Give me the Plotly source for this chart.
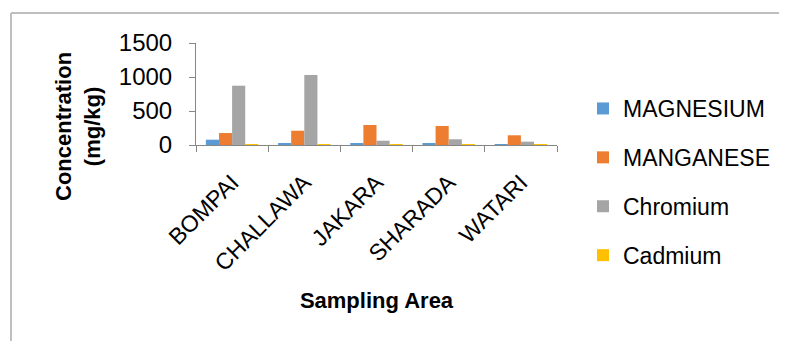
import plotly.graph_objects as go

areas = ["BOMPAI", "CHALLAWA", "JAKARA", "SHARADA", "WATARI"]
magnesium = [78, 15, 20, 15, 10]
manganese = [176, 210, 294, 280, 143]
chromium = [872, 1029, 63, 84, 49]
cadmium = [4, 2, 2, 2, 2]

series_names = ["MAGNESIUM", "MANGANESE", "Chromium", "Cadmium"]
series_values = [magnesium, manganese, chromium, cadmium]
series_colors = ["#5B9BD5", "#ED7D31", "#A5A5A5", "#FFC000"]

FONT = "Liberation Sans"
OFF = 8  # page body margin offset
W, H = 787 - OFF, 341 - OFF

fig = go.Figure()
for name, vals, col in zip(series_names, series_values, series_colors):
    fig.add_trace(go.Bar(x=areas, y=vals, name=name, marker_color=col,
                         marker_line_width=0, legendgroup=name))

# plot-area box in reference pixel coordinates
L, R, T, B = 196, 557, 43, 145
def px_x(p):
    return (p - L) / (R - L)
def px_y(p):
    return (B - p) / (B - T)

# chart border (top and left edges as in reference)
fig.add_shape(type="line", xref="paper", yref="paper",
              x0=px_x(11), x1=px_x(782), y0=px_y(13), y1=px_y(13),
              line=dict(color="#BFBFBF", width=2))
fig.add_shape(type="line", xref="paper", yref="paper",
              x0=px_x(11), x1=px_x(11), y0=px_y(13), y1=px_y(345),
              line=dict(color="#BFBFBF", width=2))

# y-axis title (two lines, rotated)
fig.add_annotation(text="<b>Concentration<br>(mg/kg)</b>", xref="paper", yref="paper",
                   x=px_x(78), y=px_y(127), xanchor="center", yanchor="middle",
                   textangle=-90, showarrow=False,
                   font=dict(size=22, family=FONT, color="#000000"))

fig.update_layout(
    width=W, height=H,
    margin=dict(l=L - OFF, r=W - (R - OFF), t=T - OFF, b=H - (B - OFF), autoexpand=False),
    paper_bgcolor="white", plot_bgcolor="white",
    barmode="group", bargap=0.273, bargroupgap=0,
    font=dict(family=FONT, color="#000000"),
    showlegend=True,
    legend=dict(x=px_x(583), y=px_y(87), xanchor="left", yanchor="top",
                font=dict(size=23, family=FONT), tracegroupgap=16,
                itemwidth=30, bgcolor="rgba(0,0,0,0)", maxheight=400),
    xaxis=dict(
        type="category", showline=True, linecolor="#868686", linewidth=1,
        ticks="outside", tickson="boundaries", ticklen=6, tickcolor="#868686",
        tickangle=-45, tickfont=dict(size=23, family=FONT),
        ticklabelstandoff=14, showgrid=False,
        title=dict(text="<b>Sampling Area</b>", font=dict(size=22, family=FONT), standoff=17),
    ),
    yaxis=dict(
        range=[0, 1500], dtick=500, showline=True, linecolor="#868686", linewidth=1,
        ticks="outside", ticklen=6, tickcolor="#868686",
        tickfont=dict(size=24, family=FONT), showgrid=False, zeroline=False,
        ticklabelstandoff=12,
    ),
)

fig.write_html("out.html")
